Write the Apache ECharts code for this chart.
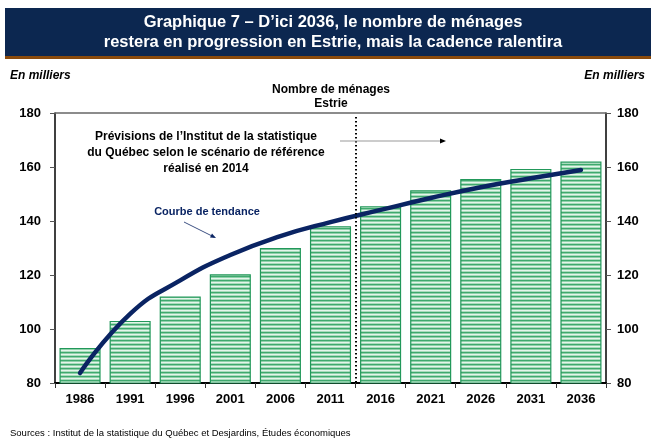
<!DOCTYPE html>
<html><head><meta charset="utf-8">
<script src="https://cdn.jsdelivr.net/npm/echarts@6/dist/echarts.min.js"></script>
<style>html,body{margin:0;padding:0;background:#fff}#c{width:651px;height:441px}</style>
</head><body><div id="c"></div>
<script>
const categories = ['1986','1991','1996','2001','2006','2011','2016','2021','2026','2031','2036'];
const menages = [93, 103, 112, 120.3, 130, 138.1, 145.5, 151.4, 155.6, 159.3, 162];
const tendance = [83.7, 105.6, 118, 127.4, 134.4, 139.6, 144.1, 148.5, 152.5, 155.8, 158.9];
const yTicks = [80, 100, 120, 140, 160, 180];

const FONT = '"Liberation Sans", Arial, sans-serif';

// striped pattern for bars
const pc = document.createElement('canvas');
pc.width = 4; pc.height = 4;
const pctx = pc.getContext('2d');
const rows = ['#3fa96e', '#8fd1aa', '#e4f5ea', '#a9dcbd'];
rows.forEach((c, i) => { pctx.fillStyle = c; pctx.fillRect(0, i, 4, 1); });

const chart = echarts.init(document.getElementById('c'), null, {renderer: 'canvas'});
const yAxisCommon = {
  type: 'value', min: yTicks[0], max: yTicks[yTicks.length - 1], interval: 20,
  axisLine: {show: true, lineStyle: {color: '#000', width: 1.5}},
  axisTick: {show: true, inside: false, length: 5, lineStyle: {color: '#555'}},
  splitLine: {show: false},
  axisLabel: {fontFamily: FONT, fontWeight: 'bold', fontSize: 13, color: '#000'}
};
chart.setOption({
  animation: false,
  grid: {left: 55, right: 45, top: 113, bottom: 58},
  xAxis: {
    type: 'category', data: categories,
    axisLine: {lineStyle: {color: '#000', width: 2}},
    axisTick: {show: true, length: 5, alignWithLabel: false, lineStyle: {color: '#333'}},
    axisLabel: {fontFamily: FONT, fontWeight: 'bold', fontSize: 13, color: '#000', margin: 10}
  },
  yAxis: [
    Object.assign({}, yAxisCommon, {position: 'left', axisLabel: Object.assign({}, yAxisCommon.axisLabel, {margin: 14})}),
    Object.assign({}, yAxisCommon, {position: 'right', axisLabel: Object.assign({}, yAxisCommon.axisLabel, {margin: 11})})
  ],
  series: [
    {
      type: 'bar', data: menages, barCategoryGap: '18%',
      itemStyle: {color: {image: pc, repeat: 'repeat'}, borderColor: '#22985a', borderWidth: 1.2},
      z: 2
    },
    {
      type: 'line', data: tendance, smooth: 0.5, symbol: 'none',
      lineStyle: {color: '#0a2463', width: 4.5, cap: 'round'}, z: 4
    }
  ]
});

const x2011 = chart.convertToPixel({xAxisIndex: 0}, '2011');
const x2016 = chart.convertToPixel({xAxisIndex: 0}, '2016');
const divX = Math.round((x2011 + x2016) / 2);
const yTop = chart.convertToPixel({yAxisIndex: 0}, 180);
const yBot = chart.convertToPixel({yAxisIndex: 0}, 80);

chart.setOption({
  graphic: [
    {type: 'rect', shape: {x: 5, y: 8, width: 646, height: 49}, style: {fill: '#0c2750'}, z: 10},
    {type: 'rect', shape: {x: 5, y: 56, width: 646, height: 3}, style: {fill: '#8a4a0c'}, z: 10},
    {type: 'text', x: 333, y: 22, style: {text: 'Graphique 7 – D’ici 2036, le nombre de ménages', fill: '#fff', font: 'bold 16.5px ' + FONT, align: 'center', verticalAlign: 'middle'}, z: 11},
    {type: 'text', x: 333, y: 42, style: {text: 'restera en progression en Estrie, mais la cadence ralentira', fill: '#fff', font: 'bold 16.5px ' + FONT, align: 'center', verticalAlign: 'middle'}, z: 11},
    {type: 'text', x: 10, y: 76, style: {text: 'En milliers', fill: '#000', font: 'italic bold 12px ' + FONT, align: 'left', verticalAlign: 'middle'}},
    {type: 'text', x: 645, y: 76, style: {text: 'En milliers', fill: '#000', font: 'italic bold 12px ' + FONT, align: 'right', verticalAlign: 'middle'}},
    {type: 'text', x: 331, y: 90, style: {text: 'Nombre de ménages', fill: '#000', font: 'bold 12px ' + FONT, align: 'center', verticalAlign: 'middle'}},
    {type: 'text', x: 331, y: 104, style: {text: 'Estrie', fill: '#000', font: 'bold 12px ' + FONT, align: 'center', verticalAlign: 'middle'}},
    {type: 'line', shape: {x1: 55, y1: yTop, x2: 606, y2: yTop}, style: {stroke: '#666', lineWidth: 1.5}, z: 5},
    {type: 'line', shape: {x1: divX, y1: yTop + 4, x2: divX, y2: yBot}, style: {stroke: '#000', lineWidth: 2, lineDash: [1.5, 2.5]}, z: 5},
    {type: 'text', x: 206, y: 137, style: {text: 'Prévisions de l’Institut de la statistique', fill: '#000', font: 'bold 12px ' + FONT, align: 'center', verticalAlign: 'middle'}, z: 6},
    {type: 'text', x: 206, y: 153, style: {text: 'du Québec selon le scénario de référence', fill: '#000', font: 'bold 12px ' + FONT, align: 'center', verticalAlign: 'middle'}, z: 6},
    {type: 'text', x: 206, y: 169, style: {text: 'réalisé en 2014', fill: '#000', font: 'bold 12px ' + FONT, align: 'center', verticalAlign: 'middle'}, z: 6},
    {type: 'line', shape: {x1: 340, y1: 141, x2: 442, y2: 141}, style: {stroke: '#999', lineWidth: 1.2}, z: 6},
    {type: 'polygon', shape: {points: [[446, 141], [440, 138.5], [440, 143.5]]}, style: {fill: '#000'}, z: 6},
    {type: 'text', x: 207, y: 212, style: {text: 'Courbe de tendance', fill: '#0a2463', font: 'bold 11px ' + FONT, align: 'center', verticalAlign: 'middle'}, z: 6},
    {type: 'line', shape: {x1: 184, y1: 222, x2: 214, y2: 237}, style: {stroke: '#0a2463', lineWidth: 0.8}, z: 6},
    {type: 'polygon', shape: {points: [[216, 238], [210, 237.5], [212, 233.5]]}, style: {fill: '#0a2463'}, z: 6},
    {type: 'text', x: 10, y: 433, style: {text: 'Sources : Institut de la statistique du Québec et Desjardins, Études économiques', fill: '#000', font: '9.5px ' + FONT, align: 'left', verticalAlign: 'middle'}}
  ]
});
</script></body></html>
